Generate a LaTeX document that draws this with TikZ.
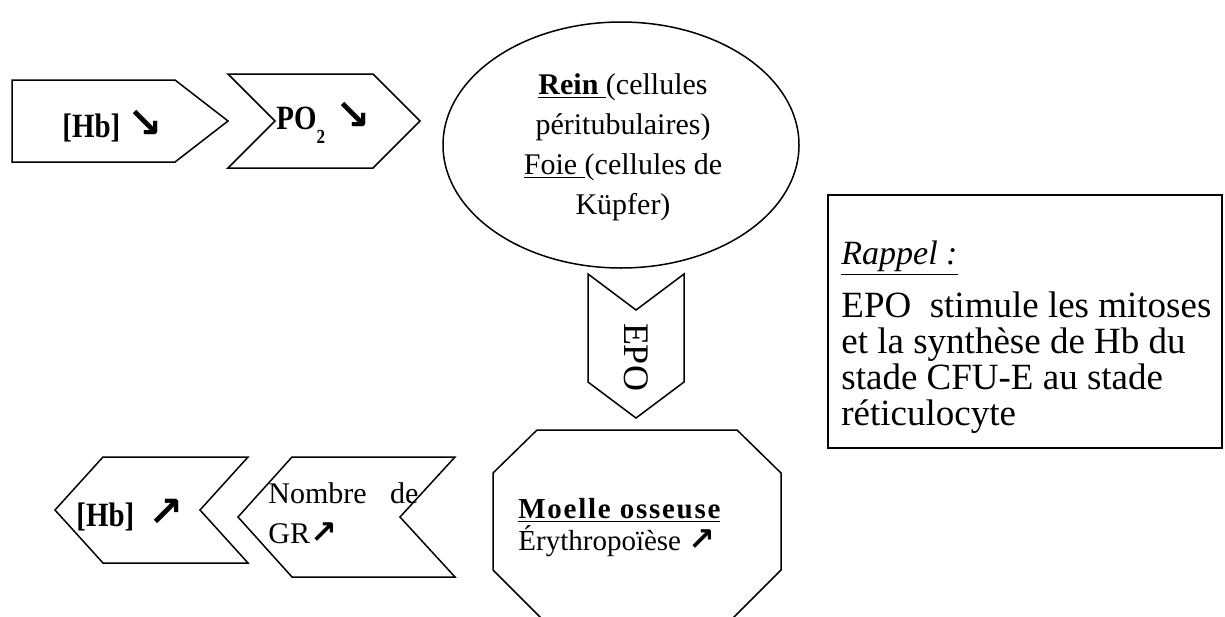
\documentclass[tikz,border=0pt]{standalone}
\usepackage{fontspec}
\setmainfont{Liberation Serif}
\newfontfamily\etiqfont{Liberation Serif}[FakeStretch=0.85]
\newfontfamily\flechefont{DejaVu Sans}
\newcommand{\fbas}[1][21]{{\flechefont\bfseries\fontsize{#1}{#1}\selectfont ↘}}
\newcommand{\fhaut}[1][21]{{\flechefont\bfseries\fontsize{#1}{#1}\selectfont ↗}}
\tikzset{
  forme/.style={draw=black,line width=0.75pt,line join=miter},
  etiq/.style={inner sep=0pt,font=\etiqfont\fontsize{17}{18}\selectfont\bfseries},
  texte/.style={inner sep=0pt,font=\fontsize{15}{20}\selectfont},
  rappeltxt/.style={inner sep=0pt,font=\fontsize{18.5}{18}\selectfont},
}

\begin{document}
\begin{tikzpicture}[x=0.5pt,y=-0.5pt]
  \useasboundingbox (0,0) rectangle (1225,616);
  % stimulus
  \draw[forme] (12,80)--(175,80)--(228,121)--(175,162)--(12,162)--cycle;
  \draw[forme] (228,74)--(373,74)--(420,121)--(373,168)--(228,168)--(275,121)--cycle;
  \node[etiq,anchor=base west] (hbbas) at (62,137) {[Hb] \fbas};
  \node[etiq,anchor=base west] (po2) at (276,129)
    {PO\raisebox{-7pt}{\fontsize{10}{10}\selectfont 2}\hspace{5pt}\fbas};
  % capteur
  \draw[forme] (621,145) ellipse [x radius=178,y radius=123];
  \node[texte,align=center] (rein) at (623,147)
    {\underline{\textbf{Rein}~}(cellules\\péritubulaires)\\\underline{Foie~}(cellules de\\Küpfer)};
  \draw[forme] (588,274)--(636,310)--(684,274)--(684,382)--(636,418)--(588,382)--cycle;
  \node[rotate=-90,inner sep=0pt,font=\fontsize{18}{18}\selectfont] (epo) at (636,357) {EPO};
  % effecteur
  \draw[forme] (493,570)--(493,473)--(537,430)--(737,430)--(781,473)--(781,570)--(729,622)
    (493,570)--(545,622);
  \node[anchor=base west,inner sep=0pt,font=\fontsize{14.5}{16}\selectfont] (moelle) at (518,518)
    {\parbox[t]{140pt}{\raggedright
     \textbf{\underline{\addfontfeature{LetterSpace=6}Moelle osseuse}}\\
     Érythropoïèse \fhaut[16]}};
  % reponse
  \draw[forme] (103,457)--(248,457)--(200,510)--(248,563)--(103,563)--(55,510)--cycle;
  \draw[forme] (292,457)--(455,457)--(400,517)--(455,577)--(292,577)--(238,517)--cycle;
  \node[etiq,anchor=base west] (hbhaut) at (76,526) {[Hb]\ \ \fhaut};
  \node[texte,anchor=base west] (nombre) at (268,503)
    {\parbox[t]{75pt}{\hyphenpenalty=10000\tolerance=10000 Nombre de GR\fhaut[16]}};
  % rappel
  \draw[forme] (828,195) rectangle (1222,448);
  \node[inner sep=0pt,anchor=base west,font=\fontsize{17}{18}\selectfont] (rappel) at (841,264)
    {\underline{\textit{Rappel :}}};
  \node[rappeltxt,anchor=base west] (rappelcorps) at (841,317)
    {\parbox[t]{190pt}{\raggedright EPO\ \ stimule les mitoses\\
     et la synthèse de Hb du\\stade CFU-E au stade\\réticulocyte}};
\end{tikzpicture}
\end{document}
